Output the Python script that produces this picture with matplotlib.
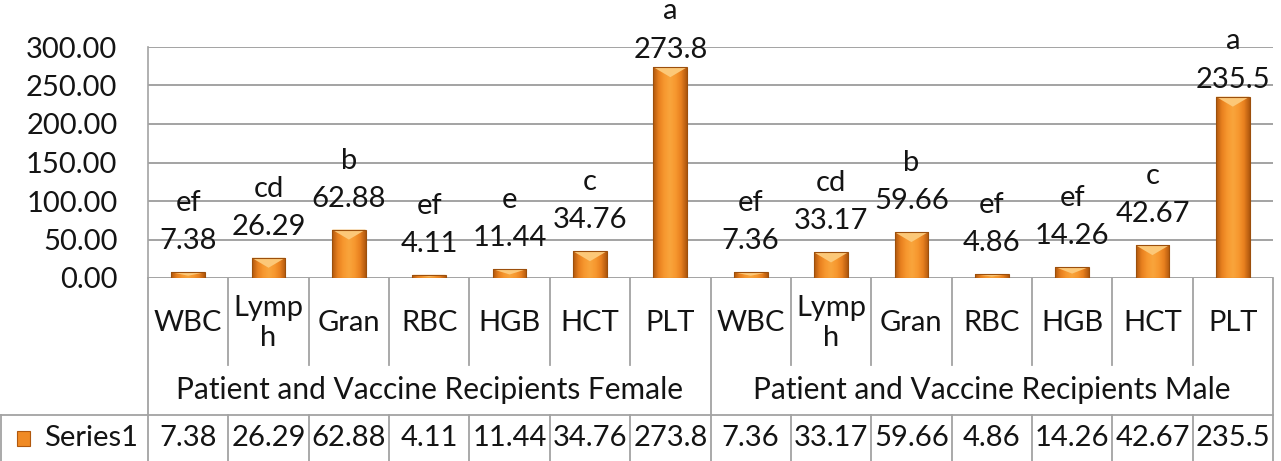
import numpy as np
import matplotlib.pyplot as plt
import matplotlib.transforms as mtransforms
from matplotlib.colors import LinearSegmentedColormap
from matplotlib.patches import Polygon, Rectangle

plt.rcParams['font.family'] = ['Lato', 'DejaVu Sans']

groups = ['Patient and Vaccine Recipients Female', 'Patient and Vaccine Recipients Male']
params = ['WBC', 'Lymph', 'Gran', 'RBC', 'HGB', 'HCT', 'PLT']
female = [7.38, 26.29, 62.88, 4.11, 11.44, 34.76, 273.8]
male = [7.36, 33.17, 59.66, 4.86, 14.26, 42.67, 235.5]
female_letters = ['ef', 'cd', 'b', 'ef', 'e', 'c', 'a']
male_letters = ['ef', 'cd', 'b', 'ef', 'ef', 'c', 'a']
series_name = 'Series1'
yticks = [0, 50, 100, 150, 200, 250, 300]

values = female + male
letters = female_letters + male_letters
cats = params + params
x = np.arange(len(values))

TXT = '#141414'
GRID = '#a3a3a3'
FS = 21

W, H = 1281, 461
fig = plt.figure(figsize=(W / 100, H / 100), dpi=100)
# plot area in pixels: left 148, right 1273, top 47, bottom 278
ax_w, ax_h = 1125, 231
ax = fig.add_axes([148 / W, (H - 278) / H, ax_w / W, ax_h / H])

ax.set_xlim(-0.5, len(values) - 0.5)
ax.set_ylim(0, 300)
ax.set_yticks(yticks)
ax.set_yticklabels([f'{t:.2f}' for t in yticks], fontsize=FS, color=TXT)
ax.tick_params(axis='y', length=0, pad=22)
ax.set_xticks([])
ax.yaxis.grid(True, color=GRID, lw=1.4)
ax.set_axisbelow(True)
for s in ['top', 'right', 'bottom']:
    ax.spines[s].set_visible(False)
ax.spines['left'].set_color(GRID)
ax.spines['left'].set_linewidth(1.2)

# bevelled orange bars
bar_cmap = LinearSegmentedColormap.from_list(
    'bev', ['#b0580e', '#e8801f', '#f7982f', '#f9a53c', '#f7982f', '#e8801f', '#b0580e'])
grad = np.linspace(0, 1, 64).reshape(1, -1)
bars = ax.bar(x, values, width=0.42, color='none', edgecolor='#9c4f0c', lw=0.8, zorder=3)
units_per_px = 300 / ax_h
for b in bars:
    x0, w, h = b.get_x(), b.get_width(), b.get_height()
    im = ax.imshow(grad, cmap=bar_cmap, aspect='auto', extent=[x0, x0 + w, 0, h],
                   zorder=2.5)
    im.set_clip_path(b)
    d = min(10 * units_per_px, h * 0.6)
    ax.add_patch(Polygon([[x0, h], [x0 + w, h], [x0 + w * 0.5, h - d]],
                         closed=True, facecolor='#fcc878', edgecolor='none', zorder=2.8))
ax.set_xlim(-0.5, len(values) - 0.5)
ax.set_ylim(0, 300)

# value labels with significance letters above
for xi, v, let in zip(x, values, letters):
    off_v, off_l = (17, 56) if v > 200 else (31, 69)
    ax.annotate(f'{v:g}', (xi, v), xytext=(0, off_v), textcoords='offset pixels',
                ha='center', va='center', fontsize=FS, color=TXT, zorder=5)
    ax.annotate(let, (xi, v), xytext=(0, off_l), textcoords='offset pixels',
                ha='center', va='center', fontsize=FS, color=TXT, zorder=5)

# category table below the plot
tr = mtransforms.blended_transform_factory(ax.transData, ax.transAxes)
y_cat = -87 / ax_h
y_tab = -137 / ax_h
y_end = -(H - 278 + 5) / ax_h
line_kw = dict(color=GRID, lw=1.3, clip_on=False)

n = len(values)
for k in range(n + 1):
    bx = k - 0.5
    if k % len(params) == 0:
        ax.plot([bx, bx], [0, y_end], transform=tr, **line_kw)
    else:
        ax.plot([bx, bx], [0, y_cat], transform=tr, **line_kw)
        ax.plot([bx, bx], [y_tab, y_end], transform=tr, **line_kw)

x_left = -147 / ax_w
ax.plot([x_left, 1], [y_tab, y_tab], transform=ax.transAxes, **line_kw)
ax.plot([x_left, x_left], [y_tab, y_end], transform=ax.transAxes, **line_kw)

for xi, c in zip(x, cats):
    lab = c if len(c) <= 4 else c[:4] + '\n' + c[4:]
    ax.text(xi, -45 / ax_h, lab, transform=tr, ha='center', va='center',
            fontsize=FS, color=TXT, linespacing=1.2)

for gi, g in enumerate(groups):
    gx = gi * len(params) + (len(params) - 1) / 2
    ax.text(gx, -112 / ax_h, g, transform=tr, ha='center', va='center',
            fontsize=FS + 0.5, color=TXT)

for xi, v in zip(x, values):
    ax.text(xi, -160 / ax_h, f'{v:g}', transform=tr, ha='center', va='center',
            fontsize=FS, color=TXT)

# legend key for the series
ax.add_patch(Rectangle((-131 / ax_w, -168 / ax_h), 13 / ax_w, 15 / ax_h,
                       transform=ax.transAxes, facecolor='#f08a24', edgecolor='#b0580e',
                       lw=0.8, clip_on=False))
ax.text(-104 / ax_w, -160 / ax_h, series_name, transform=ax.transAxes, ha='left',
        va='center', fontsize=FS, color=TXT)

fig.savefig('out.png', dpi=100)
